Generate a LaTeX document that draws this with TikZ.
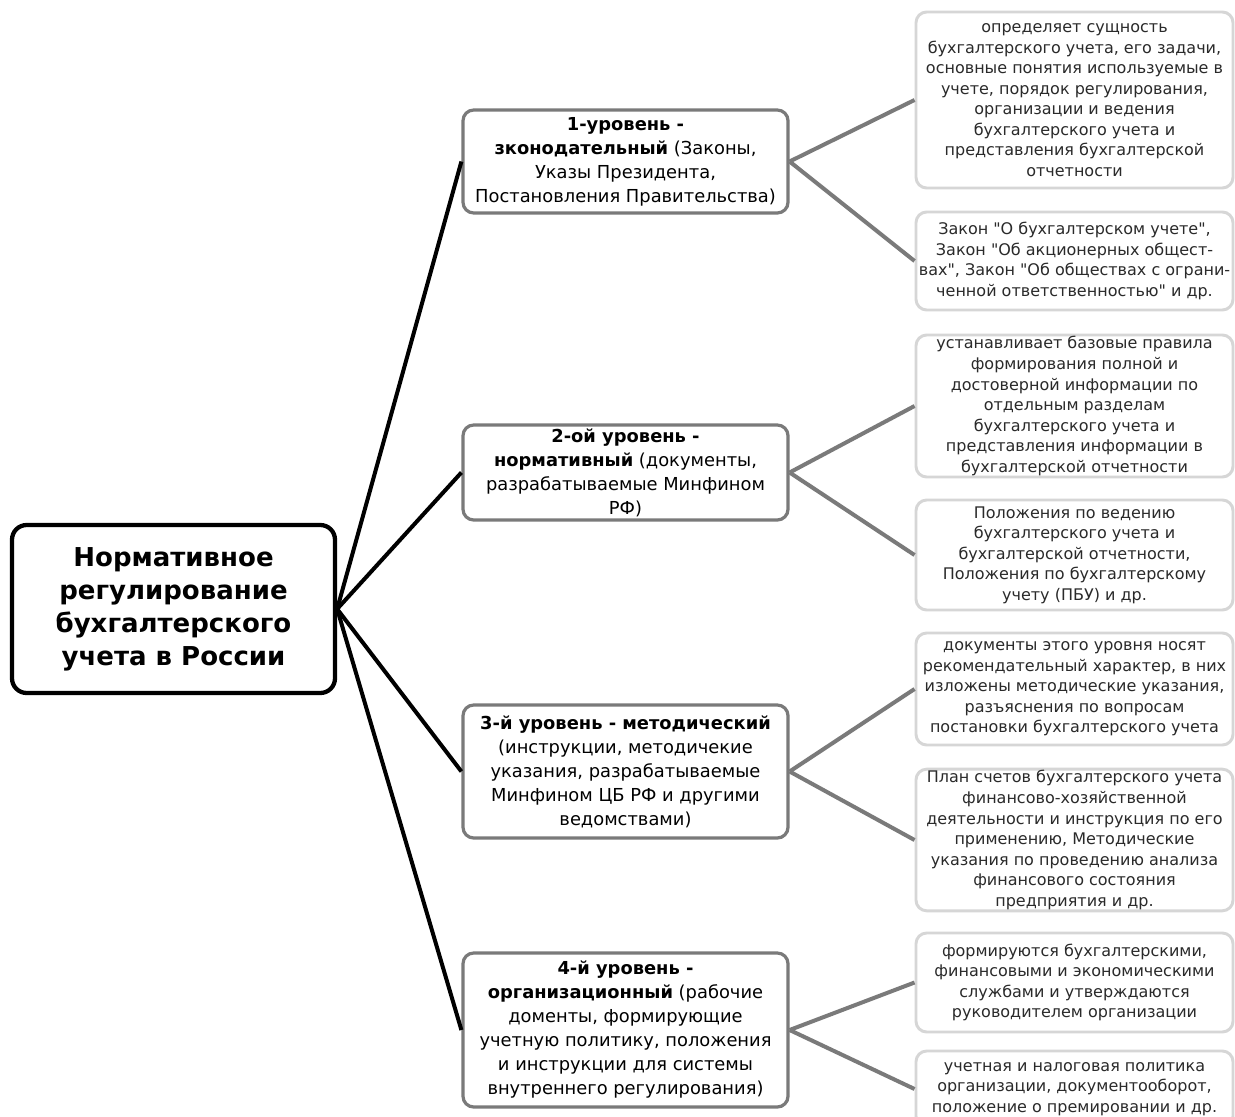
\documentclass[tikz,border=0pt]{standalone}
\usepackage{fontspec}
\setmainfont{DejaVu Sans}[Ligatures=TeXOff]
\definecolor{lvlgray}{HTML}{7A7A7A}
\definecolor{rgray}{HTML}{D6D6D6}
\definecolor{rtext}{HTML}{2A2A2A}
\begin{document}
\begin{tikzpicture}[x=0.75pt,y=-0.75pt,
  rootbox/.style={draw=black, line width=3.2pt, rounded corners=11pt, fill=white, align=center,
    font=\fontsize{19.5}{24.75}\selectfont\bfseries, minimum width=242.25pt, minimum height=126pt, inner sep=2pt},
  lvlbox/.style={draw=lvlgray, line width=2.4pt, rounded corners=8pt, fill=white, align=center,
    font=\fontsize{13.4}{18}\selectfont, minimum width=243.75pt, inner sep=1pt},
  rbox/.style={draw=rgray, line width=2.2pt, rounded corners=8pt, fill=white, align=center,
    font=\fontsize{12}{15.4}\selectfont, text=rtext, minimum width=237.75pt, inner sep=1pt},
  blk/.style={line width=3pt, draw=black},
  gry/.style={line width=3pt, draw=lvlgray}]
\useasboundingbox (0,0) rectangle (1235,1117);
\clip (0,0) rectangle (1235,1117);
\fill[white] (0,0) rectangle (1235,1117);

% root
\node[rootbox] (root) at (173.5,609) {Нормативное\\регулирование\\бухгалтерского\\учета в России};

% levels
\node[lvlbox, minimum height=77.25pt] (l1) at (625.5,161.5)
  {\textbf{1-уровень -}\\\textbf{зконодательный} (Законы,\\Указы Президента,\\Постановления Правительства)};
\node[lvlbox, minimum height=71.25pt] (l2) at (625.5,472.5)
  {\textbf{2-ой уровень -}\\\textbf{нормативный} (документы,\\разрабатываемые Минфином\\РФ)};
\node[lvlbox, minimum height=99.75pt] (l3) at (625.5,771.5)
  {\textbf{3-й уровень - методический}\\(инструкции, методичекие\\указания, разрабатываемые\\Минфином ЦБ РФ и другими\\ведомствами)};
\node[lvlbox, minimum height=115.5pt] (l4) at (625.5,1030)
  {\textbf{4-й уровень -}\\\textbf{организационный} (рабочие\\доменты, формирующие\\учетную политику, положения\\и инструкции для системы\\внутреннего регулирования)};

% right boxes
\node[rbox, minimum height=132pt] (b1) at (1074.5,100)
  {определяет сущность\\бухгалтерского учета, его задачи,\\основные понятия используемые в\\учете, порядок регулирования,\\организации и ведения\\бухгалтерского учета и\\представления бухгалтерской\\отчетности};
\node[rbox, minimum height=73.5pt] (b2) at (1074.5,261)
  {Закон "О бухгалтерском учете",\\Закон "Об акционерных общест-\\вах", Закон "Об обществах с ограни-\\ченной ответственностью" и др.};
\node[rbox, minimum height=106.5pt] (b3) at (1074.5,406)
  {устанавливает базовые правила\\формирования полной и\\достоверной информации по\\отдельным разделам\\бухгалтерского учета и\\представления информации в\\бухгалтерской отчетности};
\node[rbox, minimum height=82.5pt] (b4) at (1074.5,555)
  {Положения по ведению\\бухгалтерского учета и\\бухгалтерской отчетности,\\Положения по бухгалтерскому\\учету (ПБУ) и др.};
\node[rbox, minimum height=84pt] (b5) at (1074.5,689)
  {документы этого уровня носят\\рекомендательный характер, в них\\изложены методические указания,\\разъяснения по вопросам\\постановки бухгалтерского учета};
\node[rbox, minimum height=105pt] (b6) at (1074.5,840)
  {План счетов бухгалтерского учета\\финансово-хозяйственной\\деятельности и инструкция по его\\применению, Методические\\указания по проведению анализа\\финансового состояния\\предприятия и др.};
\node[rbox, minimum height=74.25pt] (b7) at (1074.5,982.5)
  {формируются бухгалтерскими,\\финансовыми и экономическими\\службами и утверждаются\\руководителем организации};
\node[rbox, minimum height=57pt] (b8) at (1074.5,1089)
  {учетная и налоговая политика\\организации, документооборот,\\положение о премировании и др.};

% connectors
\foreach \l in {l1,l2,l3,l4} \draw[blk] (root.east) -- (\l.west);
\draw[gry] (l1.east) -- (b1.west);
\draw[gry] (l1.east) -- (b2.west);
\draw[gry] (l2.east) -- (b3.west);
\draw[gry] (l2.east) -- (b4.west);
\draw[gry] (l3.east) -- (b5.west);
\draw[gry] (l3.east) -- (b6.west);
\draw[gry] (l4.east) -- (b7.west);
\draw[gry] (l4.east) -- (b8.west);
\end{tikzpicture}
\end{document}
